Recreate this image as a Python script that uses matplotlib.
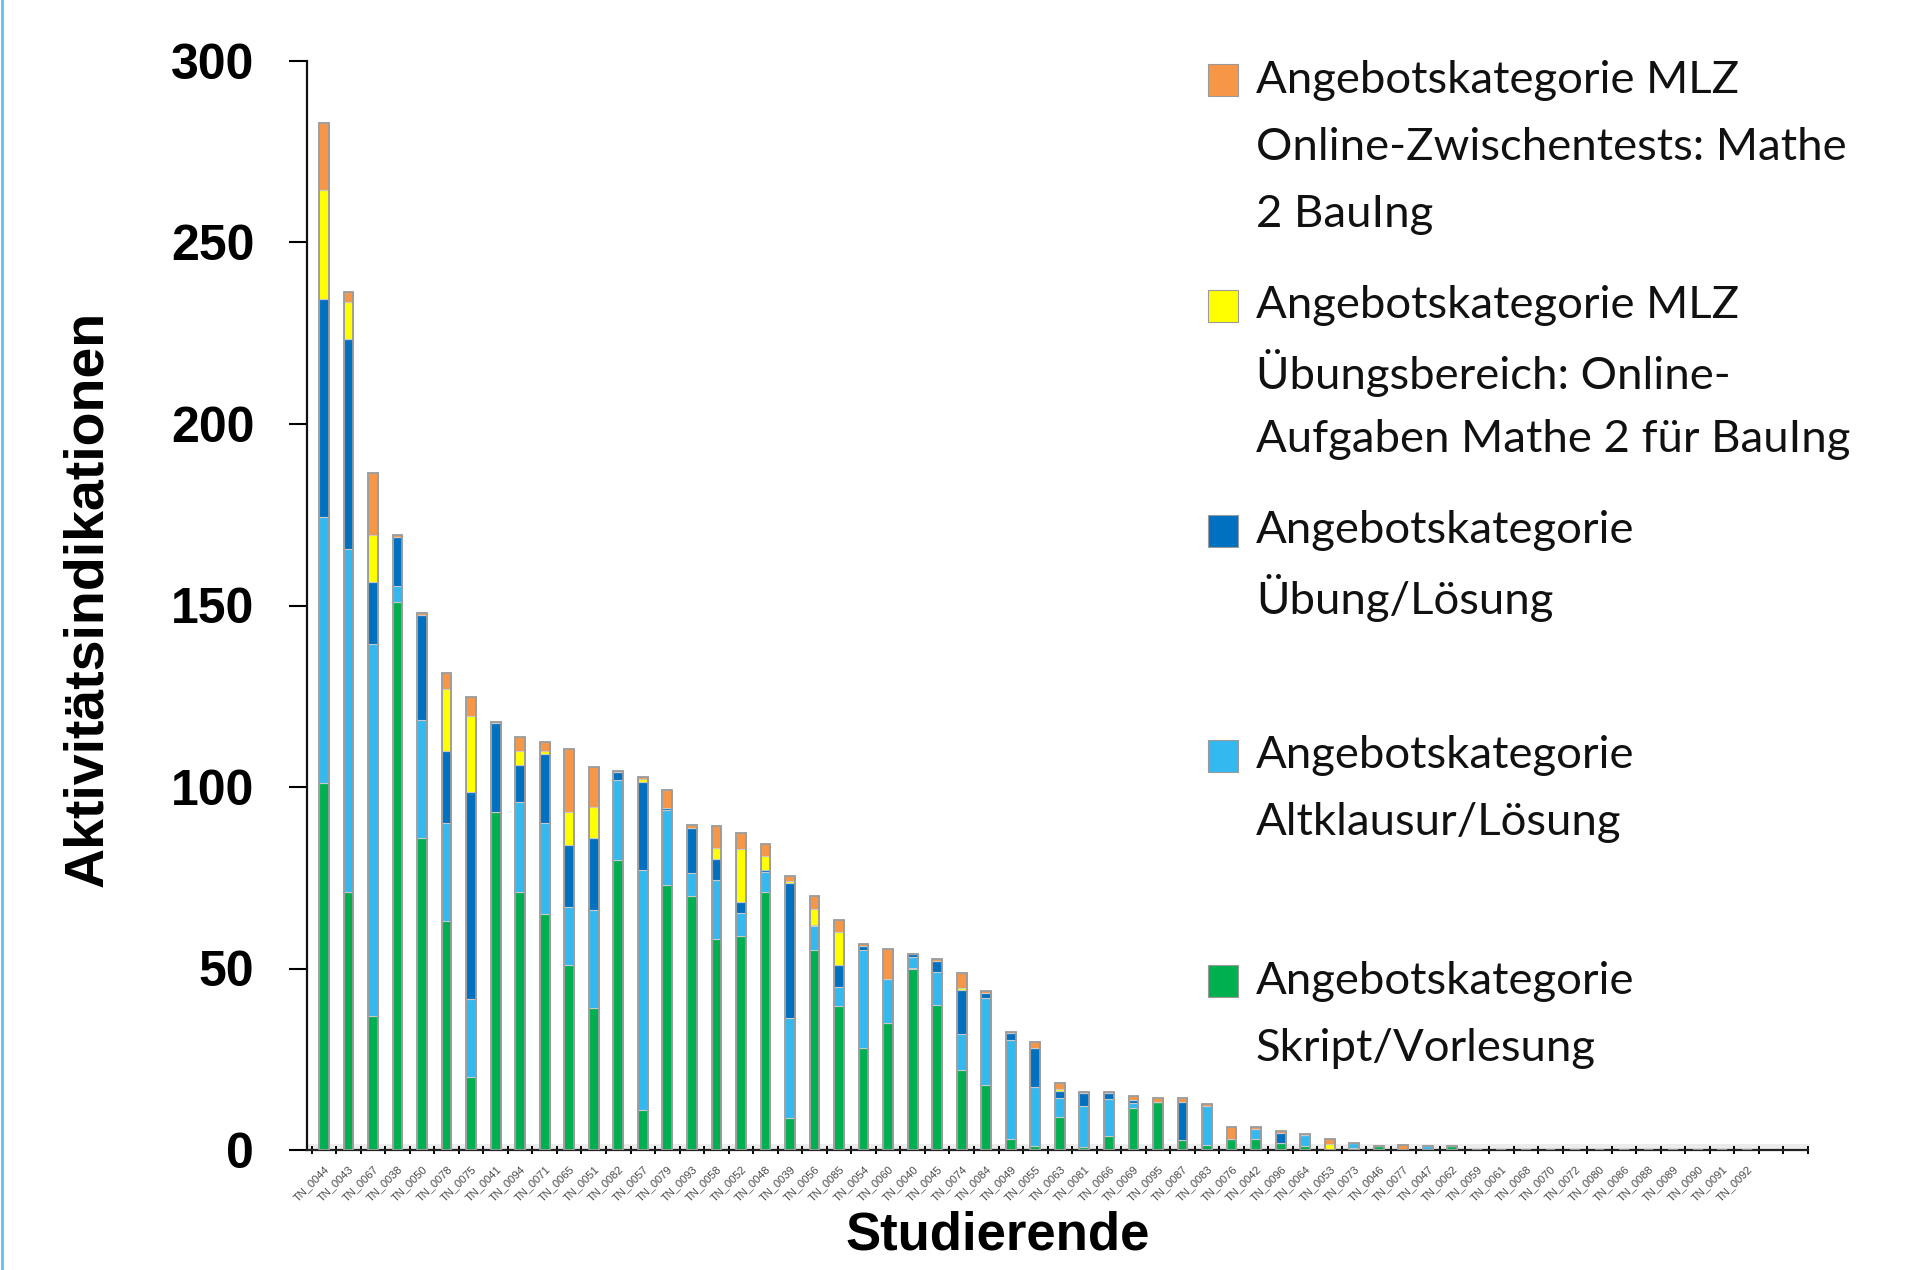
import numpy as np
import matplotlib
matplotlib.use("Agg")
import matplotlib.pyplot as plt
from matplotlib.patches import Rectangle
from matplotlib.lines import Line2D

# ---------------- data ----------------
students = ["TN_0044", "TN_0043", "TN_0067", "TN_0038", "TN_0050", "TN_0078", "TN_0075", "TN_0041",
            "TN_0094", "TN_0071", "TN_0065", "TN_0051", "TN_0082", "TN_0057", "TN_0079", "TN_0093",
            "TN_0058", "TN_0052", "TN_0048", "TN_0039", "TN_0056", "TN_0085", "TN_0054", "TN_0060",
            "TN_0040", "TN_0045", "TN_0074", "TN_0084", "TN_0049", "TN_0055", "TN_0063", "TN_0081",
            "TN_0066", "TN_0069", "TN_0095", "TN_0087", "TN_0083", "TN_0076", "TN_0042", "TN_0096",
            "TN_0064", "TN_0053", "TN_0073", "TN_0046", "TN_0077", "TN_0047", "TN_0062", "TN_0059",
            "TN_0061", "TN_0068", "TN_0070", "TN_0072", "TN_0080", "TN_0086", "TN_0088", "TN_0089",
            "TN_0090", "TN_0091", "TN_0092"]

skript = [101, 71, 37, 151, 86, 63, 20, 93, 71, 65, 51, 39, 80, 11, 73, 70,
          58, 59, 71, 8.7, 55, 39.7, 28, 35, 50, 40, 22, 18, 3, 1, 9, 0.9,
          3.9, 11.7, 13.3, 2.8, 1.4, 2.9, 2.9, 1.8, 1.1, 0, 0.6, 1.2, 0, 0, 1.2, 0,
          0, 0, 0, 0, 0, 0, 0, 0, 0, 0, 0]
altklausur = [73.5, 94.5, 102.5, 4.5, 32.5, 27, 21.5, 0, 25, 25, 16, 27, 22, 66, 20.7, 6.4,
              16.4, 6.2, 5.5, 27.6, 6.6, 5.1, 27, 12, 3.2, 9.1, 10, 24, 27.3, 16.3, 5.3, 11.3,
              10.1, 1.3, 0, 0, 10.7, 0, 2.8, 0, 3, 0, 1.2, 0, 0, 1.2, 0, 0,
              0, 0, 0, 0, 0, 0, 0, 0, 0, 0, 0]
uebung = [60, 58, 17, 13.5, 29, 20, 57, 24.5, 10, 19, 17, 20, 2, 24.5, 0.5, 12.2,
          5.7, 3, 0.5, 37.2, 0.5, 6.2, 1.2, 0, 0.8, 3, 12, 1.2, 1.8, 10.7, 1.9, 3.6,
          1.8, 0.8, 0, 10.5, 0, 0, 0, 3, 0, 0, 0, 0, 0, 0, 0, 0,
          0, 0, 0, 0, 0, 0, 0, 0, 0, 0, 0]
uebungsbereich = [30, 10, 13, 0, 0, 17, 21, 0, 4, 1, 9, 8.5, 0, 0.7, 0, 0,
                  3, 14.6, 4.1, 0.5, 4.4, 9.1, 0, 0, 0, 0, 0.5, 0, 0, 0, 0.6, 0,
                  0, 0, 0, 0, 0, 0, 0, 0, 0, 1.7, 0, 0, 0, 0, 0, 0,
                  0, 0, 0, 0, 0, 0, 0, 0, 0, 0, 0]
zwischentests = [18.5, 3, 17, 0.3, 0.3, 4.5, 5.3, 0.3, 3.7, 2.5, 17.5, 11, 0.5, 0.6, 5, 1,
                 6.2, 4.4, 3.3, 1.5, 3.4, 3.3, 0.5, 8.3, 0, 0.5, 4.2, 0.5, 0.3, 1.8, 1.6, 0.3,
                 0.3, 1.1, 0.9, 0.9, 0.7, 3.4, 0.5, 0.5, 0.3, 1.2, 0, 0, 1.5, 0, 0, 0,
                 0, 0, 0, 0, 0, 0, 0, 0, 0, 0, 0]

series_values = [skript, altklausur, uebung, uebungsbereich, zwischentests]
series_names = ["Angebotskategorie\nSkript/Vorlesung",
                "Angebotskategorie\nAltklausur/Lösung",
                "Angebotskategorie\nÜbung/Lösung",
                "Angebotskategorie MLZ\nÜbungsbereich: Online-\nAufgaben Mathe 2 für BauIng",
                "Angebotskategorie MLZ\nOnline-Zwischentests: Mathe\n2 BauIng"]
series_colors = ["#00B050", "#33B9F0", "#0070C0", "#FFFF00", "#F79646"]

y_ticks = [0, 50, 100, 150, 200, 250, 300]
y_label = "Aktivitätsindikationen"
x_label = "Studierende"

# ---------------- figure ----------------
W, H = 1909, 1270
fig = plt.figure(figsize=(W / 100, H / 100), dpi=100)
ax_l, ax_r, ax_b, ax_t = 307, 1808, 1150, 61
ax = fig.add_axes([ax_l / W, 1 - ax_b / H, (ax_r - ax_l) / W, (ax_b - ax_t) / H])

x = np.arange(len(students))
bottom = np.zeros(len(students))
for vals, col in zip(series_values, series_colors):
    v = np.array(vals, dtype=float)
    ax.bar(x, v, bottom=bottom, width=0.4, color=col, edgecolor="#c9c9c9",
           linewidth=0.8, zorder=3)
    bottom += v
# outline / top cap of each stack
ax.bar(x, bottom, width=0.4, fill=False, edgecolor="#9a9a9a", linewidth=1.3, zorder=4)

# floor band
ax.axhspan(0, 1.6, color="#ececec", zorder=1, lw=0)

ax.set_xlim(-0.69, 60.4)
ax.set_ylim(0, 300)

for s in ["top", "right"]:
    ax.spines[s].set_visible(False)
ax.spines["left"].set_linewidth(1.6)
ax.spines["bottom"].set_linewidth(1.6)
ax.spines["left"].set_color("#111111")
ax.spines["bottom"].set_color("#222222")

ax.set_yticks(y_ticks)
ax.set_yticklabels([str(t) for t in y_ticks], fontfamily="Liberation Sans",
                   fontweight="bold", fontsize=36)
ax.tick_params(axis="y", length=13, width=1.5, pad=25, direction="out")

ax.set_xticks(x)
ax.set_xticklabels(students, rotation=45, ha="right", va="top",
                   rotation_mode="anchor", fontsize=8, color="#4a4a4a",
                   fontfamily="Liberation Sans")
ax.tick_params(axis="x", which="major", length=0, pad=10)
ax.set_xticks(np.arange(-0.5, 61, 1), minor=True)
ax.tick_params(axis="x", which="minor", length=6, width=1.4, direction="inout")

ax.set_ylabel(y_label, fontfamily="Liberation Sans", fontweight="bold", fontsize=40)
ax.yaxis.label.set_va("center")
ax.yaxis.set_label_coords((88 - ax_l) / (ax_r - ax_l), (ax_b - 599) / (ax_b - ax_t))
ax.set_xlabel(x_label, fontfamily="Liberation Sans", fontweight="bold", fontsize=38)
ax.xaxis.label.set_va("center")
ax.xaxis.set_label_coords((998 - ax_l) / (ax_r - ax_l), (ax_b - 1236) / (ax_b - ax_t))

# ---------------- legend (manual, Excel-like spacing) ----------------
fig.canvas.draw()
renderer = fig.canvas.get_renderer()
probe = fig.text(0, 0, "Angebotskategorie MLZ", fontsize=30, family="Lato")
wpx = probe.get_window_extent(renderer).width
probe.remove()
leg_fs = 30 * 482 / wpx

order = [4, 3, 2, 1, 0]
entry_y0, entry_step, line_step = 80.4, 225.2, 67.0
for k, idx in enumerate(order):
    y0 = entry_y0 + entry_step * k
    fig.add_artist(Rectangle((1208 / W, 1 - (y0 + 16) / H), 30 / W, 32 / H,
                             transform=fig.transFigure, facecolor=series_colors[idx],
                             edgecolor="#9a9a9a", linewidth=0.8))
    for j, line in enumerate(series_names[idx].split("\n")):
        fig.text(1256 / W, 1 - (y0 + line_step * j) / H, line, fontsize=leg_fs,
                 family="Lato", color="#111111", va="center", ha="left")

# left border line of the slide
fig.add_artist(Line2D([0.0008, 0.0008], [0, 1], transform=fig.transFigure,
                      color="#5CC3EE", linewidth=2))

fig.savefig("out.png", dpi=100)
